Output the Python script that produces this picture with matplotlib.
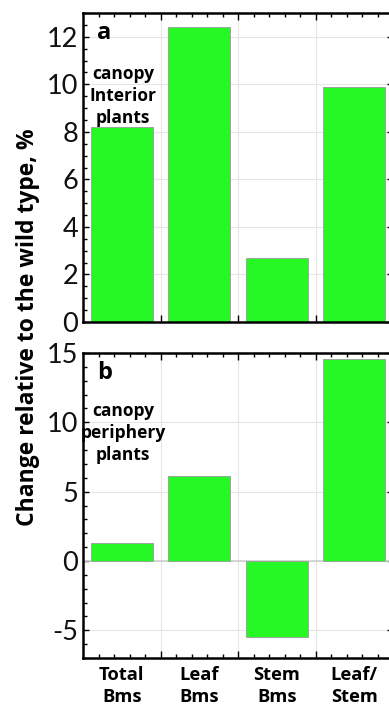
import matplotlib
matplotlib.use("Agg")
import matplotlib.pyplot as plt
from matplotlib.ticker import MultipleLocator, FixedLocator
import numpy as np

plt.rcParams["axes.unicode_minus"] = False

categories = ["Total\nBms", "Leaf\nBms", "Stem\nBms", "Leaf/\nStem"]
interior_values = [8.2, 12.4, 2.7, 9.9]
periphery_values = [1.3, 6.1, -5.5, 14.6]
panel_letters = ["a", "b"]
panel_notes = ["canopy\nInterior\nplants", "canopy\nperiphery\nplants"]
ylabel = "Change relative to the wild type, %"

W, H = 389, 710
fig = plt.figure(figsize=(W / 100, H / 100), dpi=100)

def px_axes(left, top, right, bottom):
    return fig.add_axes([left / W, 1 - bottom / H, (right - left) / W, (bottom - top) / H])

ax_a = px_axes(83, 13, 393, 322)
ax_b = px_axes(83, 353, 393, 658)

green = "#25F825"
x = np.arange(len(categories))

num_family = ["Lato", "Open Sans", "DejaVu Sans"]
bold_family = ["Open Sans", "DejaVu Sans"]

def style(ax, ylim, major, minor, values, letter, note, note_y):
    ax.bar(x, values, width=0.8, color=green, edgecolor="#9a9a9a", linewidth=0.6, zorder=2)
    ax.set_xlim(-0.5, 3.5)
    ax.set_ylim(*ylim)
    ax.yaxis.set_major_locator(MultipleLocator(major))
    ax.yaxis.set_minor_locator(MultipleLocator(minor))
    ax.xaxis.set_major_locator(FixedLocator([0.5, 1.5, 2.5]))
    ax.xaxis.set_minor_locator(FixedLocator([b + 0.2 * k for b in [-0.5, 0.5, 1.5, 2.5] for k in range(1, 5)]))
    ax.set_xticklabels([])
    ax.grid(True, which="major", color="#e6e6e6", linewidth=0.8, zorder=0)
    ax.set_axisbelow(True)
    ax.tick_params(which="both", direction="in", top=True, right=True, width=1.0, color="black")
    ax.tick_params(which="major", length=5)
    ax.tick_params(which="minor", length=3)
    ax.tick_params(axis="y", which="major", length=4, pad=3.5)
    for lab in ax.get_yticklabels():
        lab.set_fontfamily(num_family)
        lab.set_fontweight("normal")
        lab.set_fontsize(19.5)
        lab.set_color("#111111")
    for sp in ax.spines.values():
        sp.set_linewidth(1.8)
    ax.text(0.045, 0.975, letter, transform=ax.transAxes, ha="left", va="top",
            fontsize=17, family=bold_family, weight="bold")
    ax.text(0.02, note_y, note, transform=ax.transData, ha="center", va="center",
            fontsize=12.5, linespacing=1.3, family=bold_family, weight="bold")

style(ax_a, (0, 13), 2, 0.5, interior_values, panel_letters[0], panel_notes[0], 9.5)
style(ax_b, (-7, 15), 5, 1, periphery_values, panel_letters[1], panel_notes[1], 9.25)
ax_b.axhline(0, color="#d0d0d0", linewidth=1.2, zorder=1)

for i, c in enumerate(categories):
    ax_b.annotate(c, xy=(x[i], 0), xycoords=("data", "axes fraction"),
                  xytext=(0, -8), textcoords="offset pixels", ha="center", va="top",
                  fontsize=13.2, linespacing=1.32, family=bold_family, weight="bold")

fig.text(28 / W, 1 - 327 / H, ylabel, rotation=90, ha="center", va="center",
         fontsize=16.5, family=bold_family, weight="bold")

fig.savefig("out.png", dpi=100)
